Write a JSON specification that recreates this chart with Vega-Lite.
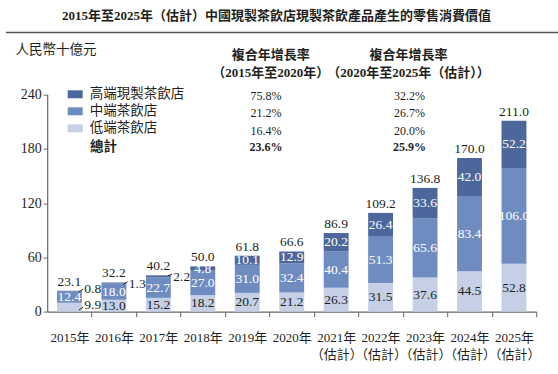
{
  "$schema": "https://vega.github.io/schema/vega-lite/v6.json",
  "width": 489,
  "height": 217,
  "autosize": {"type": "none"},
  "padding": {"left": 47.2, "top": 94.6, "right": 21.8, "bottom": 62.4},
  "background": "white",
  "config": {"view": {"stroke": null}, "font": "Liberation Serif, Noto Sans CJK TC"},
  "datasets": {
    "bars": [
      {"year": "2015年", "tier": "低端茶飲店", "rank": 1, "value": 9.9},
      {"year": "2015年", "tier": "中端茶飲店", "rank": 2, "value": 12.4},
      {"year": "2015年", "tier": "高端現製茶飲店", "rank": 3, "value": 0.8},
      {"year": "2016年", "tier": "低端茶飲店", "rank": 1, "value": 13.0},
      {"year": "2016年", "tier": "中端茶飲店", "rank": 2, "value": 18.0},
      {"year": "2016年", "tier": "高端現製茶飲店", "rank": 3, "value": 1.3},
      {"year": "2017年", "tier": "低端茶飲店", "rank": 1, "value": 15.2},
      {"year": "2017年", "tier": "中端茶飲店", "rank": 2, "value": 22.7},
      {"year": "2017年", "tier": "高端現製茶飲店", "rank": 3, "value": 2.2},
      {"year": "2018年", "tier": "低端茶飲店", "rank": 1, "value": 18.2},
      {"year": "2018年", "tier": "中端茶飲店", "rank": 2, "value": 27.0},
      {"year": "2018年", "tier": "高端現製茶飲店", "rank": 3, "value": 4.8},
      {"year": "2019年", "tier": "低端茶飲店", "rank": 1, "value": 20.7},
      {"year": "2019年", "tier": "中端茶飲店", "rank": 2, "value": 31.0},
      {"year": "2019年", "tier": "高端現製茶飲店", "rank": 3, "value": 10.1},
      {"year": "2020年", "tier": "低端茶飲店", "rank": 1, "value": 21.2},
      {"year": "2020年", "tier": "中端茶飲店", "rank": 2, "value": 32.4},
      {"year": "2020年", "tier": "高端現製茶飲店", "rank": 3, "value": 12.9},
      {"year": "2021年", "tier": "低端茶飲店", "rank": 1, "value": 26.3},
      {"year": "2021年", "tier": "中端茶飲店", "rank": 2, "value": 40.4},
      {"year": "2021年", "tier": "高端現製茶飲店", "rank": 3, "value": 20.2},
      {"year": "2022年", "tier": "低端茶飲店", "rank": 1, "value": 31.5},
      {"year": "2022年", "tier": "中端茶飲店", "rank": 2, "value": 51.3},
      {"year": "2022年", "tier": "高端現製茶飲店", "rank": 3, "value": 26.4},
      {"year": "2023年", "tier": "低端茶飲店", "rank": 1, "value": 37.6},
      {"year": "2023年", "tier": "中端茶飲店", "rank": 2, "value": 65.6},
      {"year": "2023年", "tier": "高端現製茶飲店", "rank": 3, "value": 33.6},
      {"year": "2024年", "tier": "低端茶飲店", "rank": 1, "value": 44.5},
      {"year": "2024年", "tier": "中端茶飲店", "rank": 2, "value": 83.4},
      {"year": "2024年", "tier": "高端現製茶飲店", "rank": 3, "value": 42.0},
      {"year": "2025年", "tier": "低端茶飲店", "rank": 1, "value": 52.8},
      {"year": "2025年", "tier": "中端茶飲店", "rank": 2, "value": 106.0},
      {"year": "2025年", "tier": "高端現製茶飲店", "rank": 3, "value": 52.2}
    ],
    "totals": [
      {"year": "2015年", "total": 23.1},
      {"year": "2016年", "total": 32.2},
      {"year": "2017年", "total": 40.2},
      {"year": "2018年", "total": 50.0},
      {"year": "2019年", "total": 61.8},
      {"year": "2020年", "total": 66.6},
      {"year": "2021年", "total": 86.9},
      {"year": "2022年", "total": 109.2},
      {"year": "2023年", "total": 136.8},
      {"year": "2024年", "total": 170.0},
      {"year": "2025年", "total": 211.0}
    ],
    "callouts": [
      {"year": "2015年", "value": 0.8, "lineFrom": 21.5, "lineTo": 25.0, "labelAt": 25.0},
      {"year": "2015年", "value": 9.9, "lineFrom": 1.7, "lineTo": 5.0, "labelAt": 7.0},
      {"year": "2016年", "value": 1.3, "lineFrom": 30.1, "lineTo": 33.0, "labelAt": 30.6},
      {"year": "2017年", "value": 2.2, "lineFrom": 39.6, "lineTo": 41.5, "labelAt": 38.8}
    ],
    "cagr": [
      {"period": "2015年至2020年", "tier": "高端現製茶飲店", "rate": "75.8%"},
      {"period": "2015年至2020年", "tier": "中端茶飲店", "rate": "21.2%"},
      {"period": "2015年至2020年", "tier": "低端茶飲店", "rate": "16.4%"},
      {"period": "2015年至2020年", "tier": "總計", "rate": "23.6%"},
      {"period": "2020年至2025年（估計）", "tier": "高端現製茶飲店", "rate": "32.2%"},
      {"period": "2020年至2025年（估計）", "tier": "中端茶飲店", "rate": "26.7%"},
      {"period": "2020年至2025年（估計）", "tier": "低端茶飲店", "rate": "20.0%"},
      {"period": "2020年至2025年（估計）", "tier": "總計", "rate": "25.9%"}
    ],
    "notes": [
      {"title": "2015年至2025年（估計）中國現製茶飲店現製茶飲產品產生的零售消費價值", "head": "複合年增長率", "sub1": "（2015年至2020年）", "sub2": "（2020年至2025年（估計））", "total": "總計"}
    ]
  },
  "encoding": {
    "x": {"field": "year", "type": "nominal", "sort": null,
      "scale": {"domain": ["2015年","2016年","2017年","2018年","2019年","2020年","2021年","2022年","2023年","2024年","2025年"], "paddingInner": 0.44, "paddingOuter": 0.22},
      "axis": {"title": null, "labelAngle": 0, "labelFont": "Liberation Serif, Noto Sans CJK TC", "labelFontSize": 13, "labelColor": "#231f20", "labelPadding": 15, "labelLineHeight": 16.5, "tickOffset": 22.2, "labelOffset": -22.2, "tickSize": 5, "tickColor": "#666666", "domainColor": "#666666", "domainWidth": 1.2, "labelExpr": "toNumber(slice(datum.value, 0, 4)) >= 2021 ? [datum.value, '（估計）'] : datum.value"}}
  },
  "layer": [
    {
      "data": {"name": "bars"},
      "mark": {"type": "bar"},
      "encoding": {
        "y": {"field": "value", "type": "quantitative", "stack": "zero",
          "scale": {"domain": [0, 240], "nice": false},
          "axis": {"title": "人民幣十億元", "titleAngle": 0, "titleAlign": "left", "titleBaseline": "middle", "titleX": -32.2, "titleY": -45.6, "titleFont": "Liberation Serif, Noto Sans CJK TC", "titleFontSize": 13.5, "titleFontWeight": "normal", "titleColor": "#231f20", "values": [0, 60, 120, 180, 240], "grid": false, "labelFont": "Liberation Serif, Noto Sans CJK TC", "labelFontSize": 14, "labelColor": "#231f20", "tickSize": 4, "labelPadding": 2, "domainColor": "#666666", "domainWidth": 1.2, "tickColor": "#666666"}},
        "color": {"field": "tier", "type": "nominal",
          "scale": {"domain": ["高端現製茶飲店", "中端茶飲店", "低端茶飲店"], "range": ["#4b679b", "#6f8cc0", "#c5d0e6"]},
          "legend": {"title": null, "orient": "none", "legendX": 20.5, "legendY": -7.8, "direction": "vertical", "symbolType": "M-1,-0.53H1V0.53H-1Z", "symbolSize": 225, "symbolStrokeWidth": 0, "symbolOpacity": 1, "labelFont": "Liberation Serif, Noto Sans CJK TC", "labelFontSize": 13.5, "labelColor": "#231f20", "labelOffset": 7, "rowPadding": 3, "padding": 0}},
        "order": {"field": "rank", "type": "quantitative", "sort": "ascending"}
      }
    },
    {
      "data": {"name": "bars"},
      "mark": {"type": "text", "font": "Liberation Serif, Noto Sans CJK TC", "fontSize": 13.5, "baseline": "middle"},
      "encoding": {
        "y": {"field": "value", "type": "quantitative", "stack": "zero", "bandPosition": 0.5},
        "detail": {"field": "tier"},
        "order": {"field": "rank", "type": "quantitative", "sort": "ascending"},
        "text": {"condition": {"test": "datum.value < 3 || (datum.year === '2015年' && datum.tier === '低端茶飲店')", "value": ""}, "field": "value", "type": "quantitative", "format": ".1f"},
        "color": {"condition": {"test": "datum.tier === '低端茶飲店'", "value": "#231f20"}, "value": "#ffffff"}
      }
    },
    {
      "data": {"name": "totals"},
      "mark": {"type": "text", "font": "Liberation Serif, Noto Sans CJK TC", "fontSize": 13.5, "baseline": "alphabetic", "dy": -5, "color": "#231f20"},
      "encoding": {
        "y": {"field": "total", "type": "quantitative"},
        "text": {"field": "total", "type": "quantitative", "format": ".1f"}
      }
    },
    {
      "data": {"name": "callouts"},
      "mark": {"type": "rule", "color": "#231f20", "strokeWidth": 1},
      "encoding": {
        "x": {"field": "year", "type": "nominal", "bandPosition": 0.88},
        "x2": {"field": "year", "bandPosition": 1.05},
        "y": {"field": "lineFrom", "type": "quantitative"},
        "y2": {"field": "lineTo"}
      }
    },
    {
      "data": {"name": "callouts"},
      "mark": {"type": "text", "font": "Liberation Serif, Noto Sans CJK TC", "fontSize": 13.5, "align": "left", "baseline": "middle", "color": "#231f20"},
      "encoding": {
        "x": {"field": "year", "type": "nominal", "bandPosition": 1.1},
        "y": {"field": "labelAt", "type": "quantitative"},
        "text": {"field": "value", "type": "quantitative", "format": ".1f"}
      }
    },
    {
      "data": {"name": "notes"},
      "mark": {"type": "text", "font": "Liberation Serif, Noto Sans CJK TC", "fontSize": 13, "fontWeight": "bold", "align": "center", "baseline": "middle", "color": "#231f20"},
      "encoding": {
        "x": {"datum": "2020年", "type": "nominal", "bandPosition": -0.11},
        "y": {"datum": 326.9, "type": "quantitative"},
        "text": {"field": "title"}
      }
    },
    {
      "data": {"name": "notes"},
      "mark": {"type": "rule", "color": "#555555", "strokeWidth": 1.5},
      "encoding": {
        "x": {"datum": "2015年", "type": "nominal", "bandPosition": -2.05},
        "x2": {"datum": "2025年", "bandPosition": 2.27},
        "y": {"datum": 308.7, "type": "quantitative"}
      }
    },
    {
      "data": {"name": "notes"},
      "mark": {"type": "text", "font": "Liberation Serif, Noto Sans CJK TC", "fontSize": 13, "fontWeight": "bold", "align": "center", "baseline": "middle", "color": "#231f20"},
      "encoding": {
        "x": {"datum": "2019年", "type": "nominal", "bandPosition": 1.442},
        "y": {"datum": 283.8, "type": "quantitative"},
        "text": {"field": "head"}
      }
    },
    {
      "data": {"name": "notes"},
      "mark": {"type": "text", "font": "Liberation Serif, Noto Sans CJK TC", "fontSize": 13, "fontWeight": "bold", "align": "center", "baseline": "middle", "color": "#231f20"},
      "encoding": {
        "x": {"datum": "2019年", "type": "nominal", "bandPosition": 1.442},
        "y": {"datum": 264.2, "type": "quantitative"},
        "text": {"field": "sub1"}
      }
    },
    {
      "data": {"name": "notes"},
      "mark": {"type": "text", "font": "Liberation Serif, Noto Sans CJK TC", "fontSize": 13, "fontWeight": "bold", "align": "center", "baseline": "middle", "color": "#231f20"},
      "encoding": {
        "x": {"datum": "2022年", "type": "nominal", "bandPosition": 1.623},
        "y": {"datum": 283.8, "type": "quantitative"},
        "text": {"field": "head"}
      }
    },
    {
      "data": {"name": "notes"},
      "mark": {"type": "text", "font": "Liberation Serif, Noto Sans CJK TC", "fontSize": 13, "fontWeight": "bold", "align": "center", "baseline": "middle", "color": "#231f20"},
      "encoding": {
        "x": {"datum": "2022年", "type": "nominal", "bandPosition": 1.623},
        "y": {"datum": 264.2, "type": "quantitative"},
        "text": {"field": "sub2"}
      }
    },
    {
      "data": {"name": "notes"},
      "mark": {"type": "text", "font": "Liberation Serif, Noto Sans CJK TC", "fontSize": 13.5, "fontWeight": "bold", "align": "left", "baseline": "middle", "color": "#231f20"},
      "encoding": {
        "x": {"datum": "2015年", "type": "nominal", "bandPosition": 1.327},
        "y": {"datum": 181.7, "type": "quantitative"},
        "text": {"field": "total"}
      }
    },
    {
      "data": {"name": "cagr"},
      "transform": [{"filter": "datum.period === '2015年至2020年' && datum.tier === '高端現製茶飲店'"}],
      "mark": {"type": "text", "font": "Liberation Serif, Noto Sans CJK TC", "fontSize": 12, "baseline": "middle", "color": "#231f20"},
      "encoding": {
        "x": {"datum": "2019年", "type": "nominal", "bandPosition": 1.252},
        "y": {"datum": 238.6, "type": "quantitative"},
        "text": {"field": "rate"}
      }
    },
    {
      "data": {"name": "cagr"},
      "transform": [{"filter": "datum.period === '2015年至2020年' && datum.tier === '中端茶飲店'"}],
      "mark": {"type": "text", "font": "Liberation Serif, Noto Sans CJK TC", "fontSize": 12, "baseline": "middle", "color": "#231f20"},
      "encoding": {
        "x": {"datum": "2019年", "type": "nominal", "bandPosition": 1.252},
        "y": {"datum": 219.6, "type": "quantitative"},
        "text": {"field": "rate"}
      }
    },
    {
      "data": {"name": "cagr"},
      "transform": [{"filter": "datum.period === '2015年至2020年' && datum.tier === '低端茶飲店'"}],
      "mark": {"type": "text", "font": "Liberation Serif, Noto Sans CJK TC", "fontSize": 12, "baseline": "middle", "color": "#231f20"},
      "encoding": {
        "x": {"datum": "2019年", "type": "nominal", "bandPosition": 1.252},
        "y": {"datum": 200.2, "type": "quantitative"},
        "text": {"field": "rate"}
      }
    },
    {
      "data": {"name": "cagr"},
      "transform": [{"filter": "datum.period === '2015年至2020年' && datum.tier === '總計'"}],
      "mark": {"type": "text", "font": "Liberation Serif, Noto Sans CJK TC", "fontSize": 12, "fontWeight": "bold", "baseline": "middle", "color": "#231f20"},
      "encoding": {
        "x": {"datum": "2019年", "type": "nominal", "bandPosition": 1.252},
        "y": {"datum": 182.3, "type": "quantitative"},
        "text": {"field": "rate"}
      }
    },
    {
      "data": {"name": "cagr"},
      "transform": [{"filter": "datum.period !== '2015年至2020年' && datum.tier === '高端現製茶飲店'"}],
      "mark": {"type": "text", "font": "Liberation Serif, Noto Sans CJK TC", "fontSize": 12, "baseline": "middle", "color": "#231f20"},
      "encoding": {
        "x": {"datum": "2022年", "type": "nominal", "bandPosition": 1.663},
        "y": {"datum": 238.6, "type": "quantitative"},
        "text": {"field": "rate"}
      }
    },
    {
      "data": {"name": "cagr"},
      "transform": [{"filter": "datum.period !== '2015年至2020年' && datum.tier === '中端茶飲店'"}],
      "mark": {"type": "text", "font": "Liberation Serif, Noto Sans CJK TC", "fontSize": 12, "baseline": "middle", "color": "#231f20"},
      "encoding": {
        "x": {"datum": "2022年", "type": "nominal", "bandPosition": 1.663},
        "y": {"datum": 219.6, "type": "quantitative"},
        "text": {"field": "rate"}
      }
    },
    {
      "data": {"name": "cagr"},
      "transform": [{"filter": "datum.period !== '2015年至2020年' && datum.tier === '低端茶飲店'"}],
      "mark": {"type": "text", "font": "Liberation Serif, Noto Sans CJK TC", "fontSize": 12, "baseline": "middle", "color": "#231f20"},
      "encoding": {
        "x": {"datum": "2022年", "type": "nominal", "bandPosition": 1.663},
        "y": {"datum": 200.2, "type": "quantitative"},
        "text": {"field": "rate"}
      }
    },
    {
      "data": {"name": "cagr"},
      "transform": [{"filter": "datum.period !== '2015年至2020年' && datum.tier === '總計'"}],
      "mark": {"type": "text", "font": "Liberation Serif, Noto Sans CJK TC", "fontSize": 12, "fontWeight": "bold", "baseline": "middle", "color": "#231f20"},
      "encoding": {
        "x": {"datum": "2022年", "type": "nominal", "bandPosition": 1.663},
        "y": {"datum": 182.3, "type": "quantitative"},
        "text": {"field": "rate"}
      }
    }
  ]
}
